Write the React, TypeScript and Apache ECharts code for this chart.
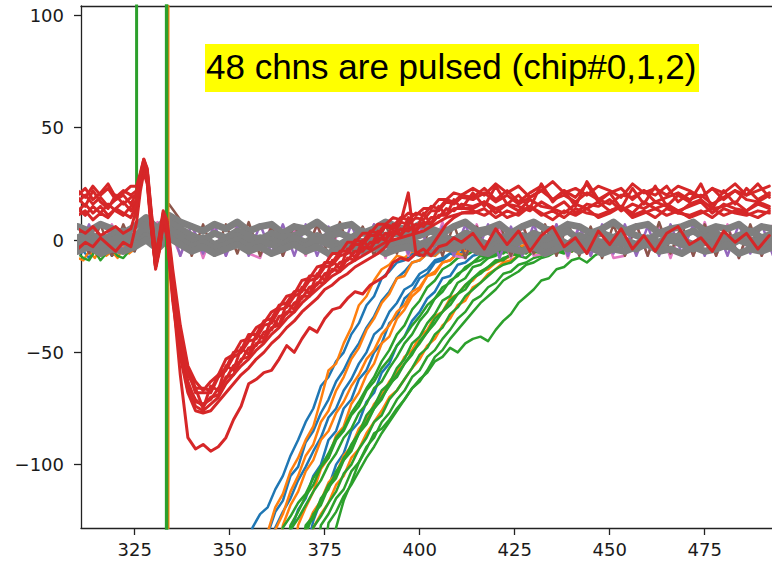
import React, { useEffect, useRef } from "react";
import * as echarts from "echarts";

// ---------- tick labels ----------
const xTicks = [325, 350, 375, 400, 425, 450, 475];
const yTicks = [-100, -50, 0, 50, 100];
const annotation = "48 chns are pulsed (chip#0,1,2)";

// ---------- x grids ----------
const xG = [310,313,316,319,322,325,328,331,334,337,340,343,346,349,352,355,358,361,364,367,370,373,376,379,382,385,388,391,394,397,400,403,406,409,412,415,418,421,424,427,430,433,436,439,442,445,448,451,454,457,460,463,466,469,472,475,478,481,484,487,490,493];

const xR = [310,312,314,316,318,320,322,324,
  325.5,326.5,327.4,328.3,329.3,330.5,331.5,332.5,333.5,
  335,337,339,341,343,345,347,349,351,353,355,357,359,361,363,365,367,369,371,373,375,377,379,381,383,385,387,389,391,393,395,397,399,401,403,405,407,409,411,
  414,417,420,423,426,429,432,435,438,441,444,447,450,453,456,459,462,465,468,471,474,477,480,483,486,489,492];

const xP = [354,356,358,360,362,364,366,368,370,372,374,376,378,380,382,384,386,388,390,392,394,396,398,400,402,404,406,408,410,412,414,416,418,420,422,424,426,428,430,432,434,436,438,440,442,444,446,448,450];

const xPre = [310,311.5,313,314.5,316,317.5,319,320.5,322,323.5,325];

// ---------- pre-pulse baselines of pulsed chips ----------
const preBlue = [-7,-5,-8,-4,-6,-3,-7,-5,-6,-4,-5];
const preOrange = [-8,-9,-5,-8,-4,-7,-5,-8,-3,-6,-4];
const preGreen = [-6,-8,-9,-5,-9,-6,-4,-7,-8,-5,-3];

// ---------- pulse edges (saturated, off scale) ----------
const pulseUpGreen = [[325.5, 10], [325.5, 400]];
const pulseDownGreen = [[333.4, 400], [333.4, -400]];
const pulseDownOrange = [[333.9, 400], [333.9, -400]];

// ---------- recovering pulsed channels ----------
const blue1 = [-150,-128,-122,-119,-111,-105,-96,-89,-81,-75,-65,-61,-54,-50,-42,-37,-29,-25,-17,-14,-10,-9,-6,-7,-4,-6,-3,-5,-4,-2,-5,-3,-4,-6,-3,-4,-2,-5,-4,-3,-5,-2,-4,-3,-5,-4,-2,-4,-3];
const blue2 = [-150,-150,-150,-131,-121,-116,-105,-101,-90,-85,-77,-71,-63,-58,-51,-46,-39,-34,-27,-23,-17,-14,-10,-9,-6,-7,-4,-5,-3,-6,-4,-2,-5,-3,-4,-5,-2,-4,-3,-5,-3,-4,-2,-5,-3,-4,-5,-3,-4];
const blue3 = [-150,-150,-150,-150,-150,-150,-130,-120,-115,-105,-100,-89,-85,-75,-71,-62,-58,-50,-46,-37,-34,-26,-23,-17,-15,-10,-9,-6,-7,-4,-5,-3,-6,-4,-2,-5,-3,-4,-5,-3,-2,-4,-3,-5,-4,-2,-3,-5,-4];
const blue4 = [-150,-150,-150,-150,-150,-150,-150,-150,-140,-125,-116,-110,-100,-95,-85,-81,-72,-68,-59,-55,-47,-43,-36,-32,-26,-23,-17,-16,-11,-10,-7,-6,-4,-5,-3,-4,-2,-5,-3,-4,-5,-3,-2,-4,-5,-3,-4,-2,-3];
const blue5 = [-150,-150,-150,-150,-128,-121,-115,-107,-101,-94,-88,-79,-75,-67,-62,-55,-50,-42,-39,-32,-28,-22,-20,-15,-13,-9,-8,-6,-5,-3,-5,-4,-2,-5,-3,-4,-6,-3,-4,-2,-5,-3,-4,-5,-3,-2,-4,-5,-3];

const orange1 = [-150,-150,-150,-130,-119,-113,-103,-97,-89,-83,-71,-58,-55,-46,-39,-29,-25,-18,-13,-11,-7,-8,-5,-6,-3,-5,-4,-2,-5,-3,-4,-6,-3,-4,-2,-5,-3,-4,-5,-2,-4,-3,-5,-4,-2,-3,-5,-4,-3];
const orange2 = [-150,-150,-150,-150,-129,-122,-112,-105,-96,-91,-81,-76,-67,-61,-53,-48,-40,-35,-28,-24,-17,-16,-10,-9,-6,-7,-4,-5,-3,-5,-4,-2,-5,-3,-4,-6,-3,-2,-4,-5,-3,-4,-2,-5,-3,-4,-2,-5,-3];
const orange3 = [-150,-150,-150,-150,-150,-150,-150,-127,-119,-112,-102,-97,-87,-83,-73,-68,-60,-55,-46,-43,-35,-31,-25,-22,-16,-15,-10,-9,-6,-7,-4,-5,-3,-6,-4,-2,-5,-3,-4,-5,-2,-4,-3,-5,-4,-3,-2,-5,-4];
const orange4 = [-150,-150,-150,-150,-150,-150,-150,-150,-150,-128,-122,-117,-109,-105,-97,-93,-86,-81,-76,-70,-67,-62,-57,-53,-47,-44,-38,-35,-29,-27,-21,-19,-15,-13,-10,-9,-7,-5,-6,-4,-3,-5,-4,-2,-5,-3,-4,-5,-3];
const orange5 = [-150,-150,-150,-150,-150,-127,-118,-112,-103,-98,-89,-85,-77,-72,-65,-60,-53,-49,-42,-38,-32,-29,-23,-21,-16,-14,-10,-9,-6,-7,-4,-5,-3,-6,-4,-2,-5,-3,-4,-5,-2,-4,-3,-5,-4,-3,-2,-5,-4];
const orange6 = [-150,-150,-150,-150,-150,-150,-150,-150,-129,-121,-116,-108,-104,-96,-92,-84,-80,-73,-69,-63,-59,-52,-49,-43,-40,-34,-32,-26,-24,-20,-18,-14,-13,-10,-9,-7,-6,-5,-4,-6,-3,-5,-4,-2,-5,-3,-4,-5,-3];

const green1 = [-150,-150,-150,-150,-150,-128,-123,-117,-113,-106,-101,-95,-88,-84,-77,-72,-66,-61,-54,-49,-42,-38,-31,-27,-21,-18,-13,-11,-8,-7,-5,-6,-3,-5,-4,-2,-5,-3,-4,-6,-3,-4,-2,-5,-3,-4,-5,-3,-4];
const green2 = [-150,-150,-150,-150,-150,-150,-129,-124,-118,-112,-107,-100,-95,-88,-84,-77,-73,-66,-63,-57,-52,-46,-42,-36,-32,-26,-23,-18,-16,-12,-10,-7,-8,-5,-6,-3,-4,-5,-2,-4,-3,-5,-4,-2,-5,-3,-4,-2,-5];
const green3 = [-150,-150,-150,-150,-150,-150,-150,-150,-131,-122,-118,-110,-106,-98,-94,-86,-82,-75,-71,-64,-61,-55,-51,-45,-41,-35,-32,-27,-24,-20,-17,-14,-12,-9,-9,-6,-7,-5,-3,-5,-4,-2,-5,-3,-4,-5,-3,-2,-4];
const green4 = [-150,-150,-150,-150,-150,-150,-150,-150,-150,-128,-123,-117,-112,-104,-100,-93,-88,-81,-78,-71,-67,-62,-57,-51,-48,-42,-39,-33,-30,-25,-22,-19,-16,-13,-11,-10,-7,-8,-5,-6,-3,-5,-4,-2,-5,-3,-4,-5,-3];
const green5 = [-150,-150,-150,-150,-150,-150,-150,-150,-150,-150,-150,-126,-121,-114,-109,-103,-97,-92,-86,-81,-76,-71,-66,-63,-58,-52,-49,-44,-40,-36,-32,-28,-25,-22,-18,-16,-14,-11,-10,-8,-7,-5,-6,-4,-5,-3,-4,-2,-5];
const green6 = [-150,-150,-150,-150,-150,-150,-150,-150,-150,-150,-150,-150,-128,-116,-108,-99,-93,-86,-84,-80,-75,-71,-66,-62,-59,-54,-52,-48,-50,-46,-44,-43,-45,-40,-36,-33,-28,-25,-22,-18,-17,-13,-12,-9,-8,-10,-7,-5,-4];
const green7 = [-150,-150,-150,-150,-150,-150,-150,-150,-128,-124,-115,-111,-103,-98,-91,-86,-78,-74,-67,-64,-57,-53,-46,-43,-37,-33,-27,-25,-19,-17,-12,-11,-8,-7,-5,-6,-3,-5,-4,-2,-5,-3,-4,-5,-2,-4,-3,-5,-4];
const green8 = [-150,-150,-150,-150,-150,-150,-127,-121,-114,-109,-101,-97,-89,-85,-78,-74,-67,-63,-57,-53,-47,-43,-38,-34,-29,-26,-21,-19,-15,-13,-10,-9,-7,-6,-5,-3,-5,-4,-2,-5,-3,-4,-5,-2,-4,-3,-5,-4,-3];
const green9 = [-150,-150,-150,-150,-150,-150,-150,-150,-127,-123,-116,-109,-105,-97,-93,-86,-81,-75,-70,-65,-60,-55,-50,-46,-41,-37,-32,-29,-24,-22,-17,-15,-12,-10,-8,-7,-5,-6,-3,-5,-4,-2,-5,-3,-4,-5,-3,-2,-4];
const green10 = [-150,-150,-150,-150,-150,-150,-150,-150,-150,-150,-127,-122,-115,-111,-103,-99,-92,-88,-81,-77,-71,-67,-61,-58,-52,-49,-44,-40,-35,-32,-27,-25,-21,-19,-15,-14,-11,-10,-8,-7,-5,-6,-4,-3,-5,-4,-2,-5,-3];

// ---------- non-pulsed channels (baseline band) ----------
const pink1 = [-7,5,-7,7,-6,-3,3,8,6,-7,7,-8,6,-7,7,-6,-8,7,-7,5,-7,7,-8,6,-7,-6,7,-8,7,-7,6,-7,8,-7,-8,7,-7,6,-8,7,-7,-6,7,-8,7,-7,6,-8,-7,7,-7,7,-8,6,-7,8,-7,7,-8,6,-7,7];
const brown1 = [6,-6,7,-7,7,-5,6,4,16,9,-7,7,-7,7,-6,8,-7,6,-7,7,-6,7,-7,8,-7,6,-7,7,-6,8,-7,7,-7,7,-8,6,-7,8,-7,7,-6,7,-7,8,-7,6,-8,7,-7,7,-7,8,-6,7,-7,7,-7,6,-8,7,-7,6];
const purple1 = [-6,7,-7,6,-5,7,5,3,10,-7,7,-6,7,-7,6,-7,7,-6,7,-7,7,-7,6,-7,7,-6,7,-7,8,-6,7,-7,6,-7,7,-6,7,-8,6,-7,7,-6,7,-7,6,-7,7,-6,7,-7,6,-7,7,-6,7,-7,6,-7,7,-6,7,-7];
const gray1 = [6,4,7,5,3,6,10,5,11,8,6,4,7,5,8,4,6,7,3,6,5,8,4,6,7,3,5,8,6,4,7,5,3,6,8,4,5,7,3,6,8,5,4,7,6,3,5,8,4,6,7,3,5,6,8,4,6,5,7,3,6,5];
const gray2 = [1,3,0,2,4,1,7,3,8,5,2,0,3,1,4,2,0,3,1,2,4,0,2,3,1,4,0,2,3,1,2,4,1,0,3,2,4,1,2,0,3,1,2,4,0,2,3,1,4,2,0,3,1,2,4,1,3,0,2,4,1,3];
const gray3 = [-1,1,-2,0,2,-1,4,0,5,2,-1,1,-2,0,2,-1,1,0,-2,1,-1,2,0,-2,1,-1,2,0,-1,1,-2,0,2,-1,1,0,-2,1,-1,2,0,-1,1,-2,2,0,-1,1,0,-2,1,-1,2,0,-2,1,0,-1,2,0,-1,1];
const gray4 = [-3,-1,-4,-2,-1,-3,2,-2,3,0,-3,-1,-4,-2,0,-3,-1,-2,-4,-1,-3,0,-2,-4,-1,-3,0,-2,-3,-1,-4,-2,0,-3,-1,-2,-4,-1,-3,0,-2,-3,-1,-4,-2,0,-3,-1,-2,-4,-1,-3,0,-2,-4,-1,-2,-3,0,-2,-3,-1];
const gray5 = [-5,-3,-6,-4,-5,-3,0,-4,1,-2,-5,-3,-6,-4,-2,-5,-3,-6,-4,-2,-5,-3,-6,-4,-2,-5,-3,-6,-4,-3,-5,-6,-3,-4,-2,-5,-6,-3,-4,-5,-3,-6,-4,-2,-5,-3,-6,-4,-5,-3,-2,-5,-4,-6,-3,-5,-4,-2,-6,-4,-5,-3];

// ---------- red channels ----------
const red1 = [22,19,24,20,23,18,21,24, 24,30,36,32,14,-6,2,13,9,
  -13,-38,-56,-63,-67,-63,-60,-53,-51,-45,-44,-39,-37,-32,-30,-25,-24,-18,-17,-12,-11,-6,-6,-1,-1,3,3,7,7,10,9,12,11,14,14,18,18,21,20,
  23,20,25,21,24,19,22,26,21,23,20,24,22,19,25,21,23,20,24,22,19,23,21,25,20,22,24];
const red2 = [17,20,16,19,15,18,20,16, 21,28,34,30,12,-8,0,11,7,
  -16,-42,-58,-68,-68,-68,-61,-58,-52,-50,-45,-44,-38,-37,-31,-30,-25,-23,-18,-17,-12,-11,-7,-6,-2,-2,2,2,6,5,8,7,10,9,13,13,17,16,19,
  18,21,17,20,16,19,22,18,20,17,21,18,16,20,19,22,17,19,21,18,20,16,19,22,18,17,20];
const red3 = [14,11,15,12,16,13,11,15, 18,26,35,28,9,-11,-3,9,4,
  -21,-46,-63,-72,-73,-71,-66,-62,-56,-54,-48,-47,-41,-40,-34,-33,-28,-26,-21,-20,-15,-14,-10,-9,-5,-5,-1,-1,3,2,5,4,7,6,10,10,14,13,16,
  15,17,14,16,13,18,15,14,17,12,16,15,18,13,16,14,17,15,12,16,18,14,15,17,13,16,14];
const red4 = [11,13,9,12,10,14,12,10, 16,24,33,27,7,-13,-5,7,2,
  -25,-50,-67,-74,-76,-73,-70,-64,-60,-56,-53,-49,-46,-42,-39,-35,-32,-28,-25,-22,-19,-16,-14,-11,-9,-7,-5,-3,-1,0,1,2,3,4,6,8,10,11,12,
  13,11,14,10,12,15,11,13,10,14,12,11,13,15,10,12,14,11,13,10,12,14,11,13,12,10,13];
const red5 = [19,15,22,17,14,20,16,19, 20,29,36,31,11,-9,-1,10,6,
  -18,-44,-60,-66,-75,-65,-67,-56,-58,-48,-51,-42,-44,-35,-38,-28,-31,-21,-24,-15,-18,-9,-13,-4,-8,0,-4,4,0,7,2,10,4,12,7,15,11,18,14,
  21,15,24,16,20,14,25,17,22,15,26,18,21,14,23,16,24,15,20,17,25,14,22,16,23,18,21];
const red6 = [20,23,18,21,25,19,22,20, 22,29,35,31,13,-7,1,12,8,
  -17,-41,-57,-66,-66,-67,-60,-57,-50,-49,-42,-42,-36,-35,-29,-28,-23,-22,-16,-16,-10,-10,-5,-5,0,-1,4,3,7,6,10,9,12,11,15,14,18,17,20,
  19,23,18,22,17,21,24,18,22,19,25,17,21,23,18,22,20,24,17,21,19,23,18,22,20,25,19];
const red7 = [13,16,12,15,11,14,17,13, 17,25,34,29,8,-12,-4,8,3,
  -23,-48,-65,-71,-74,-70,-69,-61,-60,-53,-52,-46,-45,-39,-38,-32,-32,-25,-25,-19,-19,-13,-14,-8,-9,-3,-4,1,0,4,2,6,4,8,7,11,11,14,14,
  14,17,12,16,15,13,17,14,12,16,14,17,13,15,12,17,14,16,13,15,17,12,16,14,13,17,15];
const redLow = [-4,-1,-3,1,-2,-5,-1,-3, 8,22,30,25,6,-12,-4,8,3,
  -24,-60,-88,-93,-91,-94,-92,-88,-80,-74,-64,-62,-59,-58,-53,-47,-50,-44,-39,-41,-35,-31,-30,-26,-23,-24,-20,-18,-16,-10,-8,-9,-6,-4,-7,-3,-2,1,-1,
  3,-4,5,-2,4,-5,2,6,-3,1,-6,4,-2,5,-4,2,-5,3,6,-2,1,-5,4,-1,3,-4,2];
const redMid = [5,3,6,2,4,6,3,5, 14,25,33,26,8,-12,-3,9,3,
  -27,-52,-68,-76,-77,-76,-72,-68,-64,-60,-57,-53,-50,-46,-43,-39,-36,-32,-29,-26,-22,-20,-17,-15,-12,-10,-8,-6,-3,2,8,21,-6,-7,-3,2,7,10,12,
  12,14,10,13,11,15,12,9,13,11,14,10,12,15,11,13,10,14,12,11,13,10,14,12,11,13,12];

const C = {
  blue: "#1f77b4", orange: "#ff7f0e", green: "#2ca02c", red: "#d62728",
  purple: "#9467bd", brown: "#8c564b", pink: "#e377c2", gray: "#7f7f7f",
};

const zip = (xs: number[], ys: number[]) => xs.map((x, i) => [x, ys[i]]);

function line(data: any[], color: string, width: number) {
  return {
    type: "line",
    data,
    symbol: "none",
    showSymbol: false,
    silent: true,
    clip: true,
    animation: false,
    lineStyle: { color, width, cap: "round", join: "round" },
    itemStyle: { color },
  };
}

const minus = (v: number) => (v < 0 ? "\u2212" + Math.abs(v) : String(v));

export default function App() {
  const ref = useRef<HTMLDivElement>(null);
  useEffect(() => {
    if (!ref.current) return;
    const chart = echarts.init(ref.current, undefined, { renderer: "svg" });
    const series: any[] = [];
    series.push(line(zip(xPre, preBlue), C.blue, 2.4));
    series.push(line(zip(xPre, preOrange), C.orange, 2.4));
    series.push(line(zip(xPre, preGreen), C.green, 2.4));
    [blue1, blue2, blue3, blue4, blue5].forEach((s) => series.push(line(zip(xP, s), C.blue, 2.5)));
    [orange1, orange2, orange3, orange4, orange5, orange6].forEach((s) => series.push(line(zip(xP, s), C.orange, 2.5)));
    [green1, green2, green3, green4, green5, green6, green7, green8, green9, green10].forEach((s) =>
      series.push(line(zip(xP, s), C.green, 2.5)));
    series.push(line(zip(xG, pink1), C.pink, 2.5));
    series.push(line(zip(xG, brown1), C.brown, 2.5));
    series.push(line(zip(xG, purple1), C.purple, 2.5));
    [gray1, gray2, gray3, gray4, gray5].forEach((s) => series.push(line(zip(xG, s), C.gray, 7)));
    series.push(line(pulseDownOrange, C.orange, 2));
    series.push(line(pulseUpGreen, C.green, 3));
    series.push(line(pulseDownGreen, C.green, 3.5));
    [redLow, redMid, red7, red4, red3, red2, red6, red1, red5].forEach((s) => series.push(line(zip(xR, s), C.red, 3)));

    const axisFont = { fontFamily: "DejaVu Sans", fontSize: 18, color: "#1a1a1a" };
    const spine = { show: true, onZero: false, lineStyle: { color: "#222", width: 1.3 } };
    chart.setOption({
      animation: false,
      grid: { left: 81, top: 6, right: 0, bottom: 36 },
      xAxis: [
        {
          type: "value",
          min: 310.87,
          max: 492.71,
          splitLine: { show: false },
          axisLine: spine,
          axisTick: { show: true, length: 7, customValues: xTicks, lineStyle: { color: "#222", width: 1.3 } },
          axisLabel: { ...axisFont, margin: 12, customValues: xTicks, formatter: (v: number) => minus(v) },
        },
        {
          type: "value",
          position: "top",
          min: 310.87,
          max: 492.71,
          splitLine: { show: false },
          axisLine: spine,
          axisTick: { show: false },
          axisLabel: { show: false },
        },
      ],
      yAxis: {
        type: "value",
        min: -128.2,
        max: 104.2,
        splitLine: { show: false },
        axisLine: spine,
        axisTick: { show: true, length: 7, customValues: yTicks, lineStyle: { color: "#222", width: 1.3 } },
        axisLabel: { ...axisFont, margin: 17, customValues: yTicks, formatter: (v: number) => minus(v) },
      },
      series,
      graphic: [
        { type: "rect", left: 205, top: 44, shape: { width: 494, height: 48 }, style: { fill: "#ffff00" }, z: 100 },
        {
          type: "text", left: 206, top: 49, z: 101,
          style: { text: annotation, fontFamily: "Liberation Sans, Arial, sans-serif", fontSize: 35, fill: "#000" },
        },
      ],
    });
    return () => chart.dispose();
  }, []);
  return (
    <div style={{ position: "absolute", left: 0, top: 0, width: 772, height: 564, overflow: "hidden" }}>
      <div ref={ref} style={{ width: 772, height: 564 }} />
    </div>
  );
}
